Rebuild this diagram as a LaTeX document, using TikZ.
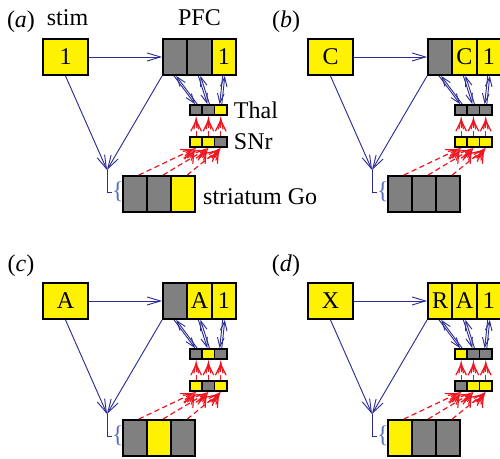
\documentclass[tikz,border=0pt]{standalone}
\usepackage{fontspec}
\setmainfont{Liberation Serif}
\usetikzlibrary{arrows.meta,positioning}
\definecolor{cellyellow}{RGB}{255,242,0}
\definecolor{cellgray}{RGB}{128,128,128}
\definecolor{pathblue}{RGB}{45,45,150}
\definecolor{braceblue}{RGB}{90,110,190}
\definecolor{inhibred}{RGB}{240,20,30}

\tikzset{
  txt/.style={inner sep=0pt, font=\fontsize{18}{21}\selectfont},
  bigcell/.style={draw=black, line width=1.4pt, inner sep=0pt, minimum width=18.2pt, minimum height=27pt, font=\fontsize{18}{21}\selectfont},
  stimbox/.style={bigcell, minimum width=33.75pt},
  smallcell/.style={draw=black, line width=1.2pt, inner sep=0pt, minimum width=9.2pt, minimum height=7.5pt},
  excite/.style={draw=pathblue, line width=0.7pt, -{Straight Barb[length=10pt,width=6pt]}},
  loopbarb/.style={draw=pathblue, line width=0.7pt, -{Straight Barb[length=7pt,width=5pt]}},
  inhib/.style={draw=inhibred, line width=0.9pt, dash pattern=on 4pt off 2.5pt,
    -{Straight Barb[length=8pt,width=8pt,sep=-8pt]Straight Barb[length=8pt,width=3.5pt]}},
}

% #1 shift, #2 tag, #3 stim, #4 pfc, #5 thal, #6 snr, #7 striatum
\newcommand\bgpanel[7]{%
\begin{scope}[shift={#1}]
% stimulus and PFC stripes
\node[txt] (#2-tag) at (21,22) {(\textit{#2})};
\node[stimbox, fill=cellyellow] (#2-stim) at (65.5,57) {#3};
\foreach \c/\t [count=\i] in {#4}
  \node[bigcell, fill=\c] (#2-p\i) at ({150.85+24.3*\i},57) {\t};
% thalamus, SNr, striatum
\foreach \c [count=\i] in {#5}
  \node[smallcell, fill=\c] (#2-t\i) at ({183.85+12.3*\i},110) {};
\foreach \c [count=\i] in {#6}
  \node[smallcell, fill=\c] (#2-s\i) at ({183.85+12.3*\i},142) {};
\foreach \c [count=\i] in {#7}
  \node[bigcell, fill=\c] (#2-r\i) at ({110.6+24.2*\i},194) {};
\coordinate (#2-go) at (107,170);
\node[txt, text=braceblue] (#2-brace) at (118,192) {\{};
% connections
\draw[excite] (#2-stim.east) -- (#2-p1.west);
\draw[excite] (#2-stim.south) -- (#2-go);
\draw[excite] (#2-p1.south west) -- (#2-go);
\draw[pathblue, line width=0.7pt] (#2-go) |- (#2-brace.west);
\foreach \i in {1,2,3} {
  \draw[loopbarb] ([xshift=-0.8pt]#2-p\i.south) -- ([xshift=-0.8pt]#2-t\i.north);
  \draw[loopbarb] ([xshift=0.8pt]#2-t\i.north) -- ([xshift=0.8pt]#2-p\i.south);
  \draw[inhib] (#2-s\i.north) -- (#2-t\i.south);
  \draw[inhib] ([xshift=3pt]#2-r\i.north) -- (#2-s\i.south);
  \draw[inhib] ([shift={(-6,10)}]#2-s\i.south) -- (#2-s\i.south);
}
\end{scope}}

\begin{document}
\begin{tikzpicture}[x=0.75pt,y=-0.75pt]
\useasboundingbox (0,0) rectangle (500,459);

\bgpanel{(0,0)}{a}{1}{cellgray/{},cellgray/{},cellyellow/1}{cellgray,cellgray,cellyellow}{cellyellow,cellyellow,cellgray}{cellgray,cellgray,cellyellow}
\bgpanel{(265,0)}{b}{C}{cellgray/{},cellyellow/C,cellyellow/1}{cellgray,cellgray,cellgray}{cellyellow,cellyellow,cellyellow}{cellgray,cellgray,cellgray}
\bgpanel{(0,244)}{c}{A}{cellgray/{},cellyellow/A,cellyellow/1}{cellgray,cellyellow,cellgray}{cellyellow,cellgray,cellyellow}{cellgray,cellyellow,cellgray}
\bgpanel{(265,244)}{d}{X}{cellyellow/R,cellyellow/A,cellyellow/1}{cellyellow,cellgray,cellgray}{cellgray,cellyellow,cellyellow}{cellyellow,cellgray,cellgray}

% layer names
\node[txt, above=9pt of a-stim, xshift=1.5pt] (stimlbl) {stim};
\node[txt, above=9pt of a-p2] (pfclbl) {PFC};
\node[txt, right=4.5pt of a-t3] (thallbl) {Thal};
\node[txt, right=4.5pt of a-s3] (snrlbl) {SNr};
\node[txt, right=5pt of a-r3, yshift=-2pt] (golbl) {striatum Go};

\end{tikzpicture}
\end{document}
